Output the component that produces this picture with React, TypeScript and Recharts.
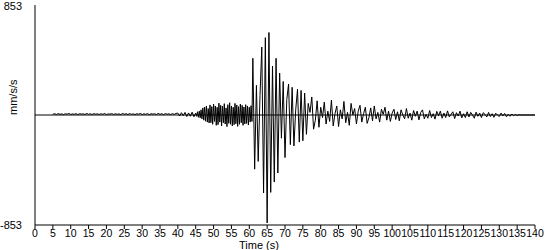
import { LineChart, Line, XAxis, YAxis, ReferenceLine } from "recharts";

// seismogram trace at a fixed sample step per segment
const quietStart = 5;
const quietStep = 0.5;
const quietValues = [
  6, 10, 4, 11, 5, 9, 3, 10, 6, 12, 4, 9, 5, 11, 3, 10, 7, 9, 4, 12,
  5, 10, 3, 11, 6, 9, 4, 10, 5, 12, 3, 9, 6, 11, 4, 10, 5, 9, 3, 12,
  6, 10, 4, 11, 5, 9, 3, 10, 6, 12, 4, 9, 5, 11, 3, 10, 7, 9, 4, 12,
  5, 10, 3, 11, 6, 9, 4, 10, 5, 12, 15, -8, 18, -5, 20, -12, 16, -10, 22, -14,
];

const noiseStart = 45;
const noiseStep = 0.25;
const noiseValues = [
  15, -10, 25, -18, 30, -22, 40, -30,
  55, -40, 62, -48, 70, -55, 50, -62,
  78, -60, 65, -72, 85, -50, 70, -80,
  60, -75, 92, -55, 75, -85, 68, -60,
  88, -70, 55, -90, 80, -65, 95, -72,
  70, -85, 60, -75, 90, -68, 78, -88,
  65, -72, 85, -60, 75, -80, 62, -70,
  80, -65, 70, -78, 60, -55, 72, -50,
];

const mainStart = 61;
const mainStep = 0.5;
const mainValues = [
  440, -420, 230, -360, 150, 527, -605, 600, -837, 640,
  -600, 380, -520, 440, -450, 325, -180, 260, -330, 120,
  240, -230, 215, -240, 40, 200, -210, 190, -200, 170,
  -150, 90, 20, 140, -110, -40, 110, -95, 60, -20,
  100, -70, 30, -50, 115, -85, 10, 70, -90, 40,
  -30, 105, -60, 20, -80, 90, 0, 50, -70, 30,
  75, -55, 10, 60, -65, -20, 55, -45, 70, -30,
  20, -55, 45, 5, 60, -40, 30, -50, 15, 45,
  -35, 25, -45, 40, 0, -30, 50, -25, 15, -40,
  35, -10, 30, -38, 20, 40, -30, 5, -25, 35,
  -20, 10, -32, 28, -5, 30, -25, 15, -20, 32,
  -15, 5, 25, -28, 18, -8, 30, -22, 10, -20,
  25, -15, 20, 0, -25, 22, -10, 15, -20, 18,
  5, -15, 20, -12, 10, -18, 14, 0, -12, 15,
  -8, 12, -14, 6, -10, 8, -6, 4, -4, 2,
  0, 0, 0, 0, 0, 0, 0, 0, 0,
];

const timeTicks = [
  0, 5, 10, 15, 20, 25, 30, 35, 40, 45, 50, 55, 60, 65, 70,
  75, 80, 85, 90, 95, 100, 105, 110, 115, 120, 125, 130, 135, 140,
];
const ampTicks = [-853, 853];

function segment(start: number, step: number, values: number[]) {
  return values.map((v, i) => ({ t: start + i * step, v }));
}

const data = [
  ...segment(quietStart, quietStep, quietValues),
  ...segment(noiseStart, noiseStep, noiseValues),
  ...segment(mainStart, mainStep, mainValues),
];

const font = { fontSize: 11, fontFamily: "Liberation Sans, Arial, sans-serif", fill: "#000" };
const tickFont = { ...font, fontSize: 10.5 };

export default function App() {
  return (
    <div style={{ position: "absolute", left: 0, top: 0, background: "#fff" }}>
      <LineChart width={550} height={250} data={data} margin={{ top: 5, right: 15, bottom: 0, left: 0 }}>
        <XAxis
          dataKey="t"
          type="number"
          domain={[0, 140]}
          ticks={timeTicks}
          interval={0}
          height={25}
          tickSize={4}
          tickMargin={1}
          stroke="#000"
          tick={tickFont}
          label={{ value: "Time (s)", position: "insideBottom", offset: 1, dx: -26, style: font }}
        />
        <YAxis
          type="number"
          domain={[-853, 853]}
          ticks={ampTicks}
          width={35}
          tickLine={false}
          tickSize={0}
          tickMargin={13}
          stroke="#000"
          tick={font}
          label={{ value: "mm/s/s", angle: -90, position: "insideLeft", offset: 13, style: font }}
        />
        <ReferenceLine y={0} stroke="#000" strokeWidth={1} />
        <Line
          type="linear"
          dataKey="v"
          stroke="#000"
          strokeWidth={1}
          dot={false}
          isAnimationActive={false}
        />
      </LineChart>
    </div>
  );
}
